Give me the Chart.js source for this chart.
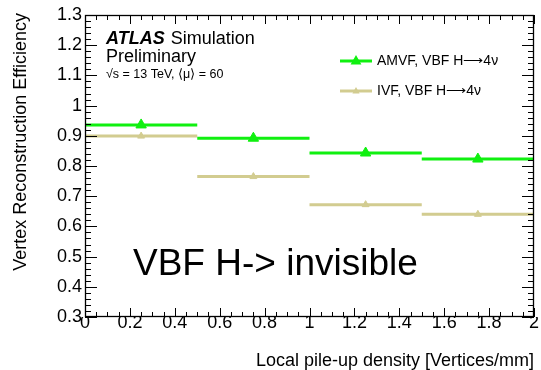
<!DOCTYPE html>
<html>
<head>
<meta charset="utf-8">
<script src="https://cdn.jsdelivr.net/npm/chart.js@4.4.0/dist/chart.umd.min.js"></script>
<style>
html,body{margin:0;padding:0;background:#fff;}
#wrap{width:541px;height:370px;position:relative;}
</style>
</head>
<body>
<div id="wrap"><canvas id="c" width="541" height="370"></canvas></div>
<script>
// ---- data ----
const binEdges = [0, 0.5, 1, 1.5, 2];
const amvfEff = [0.936, 0.892, 0.843, 0.823];
const ivfEff = [0.899, 0.765, 0.672, 0.640];
const seriesNames = ['AMVF, VBF H\u27f64\u03bd', 'IVF, VBF H\u27f64\u03bd'];
const xTitle = 'Local pile-up density [Vertices/mm]';
const yTitle = 'Vertex Reconstruction Efficiency';
const annotation = 'VBF H-> invisible';

const GREEN = '#10f010';
const TAN = '#d2cc90';
const FONT = '"Liberation Sans", Arial, sans-serif';

function segments(vals){
  const out = [];
  vals.forEach((v,i)=>{
    out.push({x:binEdges[i], y:v});
    out.push({x:binEdges[i+1], y:v});
    out.push({x:binEdges[i+1], y:null});
  });
  return out;
}
function centers(vals){
  return vals.map((v,i)=>({x:(binEdges[i]+binEdges[i+1])/2, y:v}));
}
const fmt = v => String(Math.round(v*10)/10);

const decor = {
  id:'decor',
  afterDraw(chart){
    const ctx = chart.ctx, a = chart.chartArea;
    const xs = chart.scales.x, ys = chart.scales.y;
    ctx.save();
    // frame
    ctx.strokeStyle = '#000'; ctx.lineWidth = 1.3;
    ctx.strokeRect(a.left+0.5, a.top+0.5, a.right-a.left-1, a.bottom-a.top-1);
    ctx.lineWidth = 1;
    // x ticks (bottom & top)
    ctx.beginPath();
    for (let k=0;k<=40;k++){
      const v = k*0.05;
      const px = Math.round(xs.getPixelForValue(v))+0.5;
      const len = (k%4===0)?9:5;
      ctx.moveTo(px, a.bottom); ctx.lineTo(px, a.bottom-len);
      ctx.moveTo(px, a.top); ctx.lineTo(px, a.top+len);
    }
    // y ticks (left & right)
    for (let k=0;k<=50;k++){
      const v = 0.3 + k*0.02;
      const py = Math.round(ys.getPixelForValue(v))+0.5;
      const len = (k%5===0)?12:6;
      ctx.moveTo(a.left, py); ctx.lineTo(a.left+len, py);
      ctx.moveTo(a.right, py); ctx.lineTo(a.right-len, py);
    }
    ctx.stroke();

    ctx.fillStyle = '#000';
    // axis titles
    ctx.font = '18px '+FONT;
    ctx.textAlign = 'right'; ctx.textBaseline = 'alphabetic';
    ctx.fillText(xTitle, a.right, 366);
    ctx.save();
    ctx.translate(26, a.top-2);
    ctx.rotate(-Math.PI/2);
    ctx.textAlign='right';
    ctx.fillText(yTitle, 0, 0);
    ctx.restore();

    // ATLAS label
    ctx.textAlign = 'left';
    ctx.font = 'italic bold 18px '+FONT;
    ctx.fillText('ATLAS', 106, 44);
    const w = ctx.measureText('ATLAS').width;
    ctx.font = '18px '+FONT;
    ctx.fillText('Simulation', 106+w+6, 44);
    ctx.fillText('Preliminary', 106, 62);
    ctx.font = '12.5px '+FONT;
    ctx.fillText('\u221As = 13 TeV, \u27e8\u03bc\u27e9 = 60', 106, 78);

    // annotation
    ctx.font = '37px '+FONT;
    ctx.fillText(annotation, 133, 275);

    // legend
    const legend = [[GREEN, seriesNames[0], 61, 6], [TAN, seriesNames[1], 91, 4]];
    legend.forEach(([col, txt, y, r])=>{
      ctx.strokeStyle = col; ctx.lineWidth = 3;
      ctx.beginPath(); ctx.moveTo(340, y); ctx.lineTo(372, y); ctx.stroke();
      ctx.fillStyle = col;
      ctx.beginPath();
      ctx.moveTo(356, y-r); ctx.lineTo(356+r*0.9, y+r*0.6); ctx.lineTo(356-r*0.9, y+r*0.6);
      ctx.closePath(); ctx.fill();
      ctx.fillStyle = '#000';
      ctx.font = '14px '+FONT;
      ctx.textBaseline = 'middle';
      ctx.fillText(txt, 377, y);
    });
    ctx.restore();
  }
};

new Chart(document.getElementById('c'), {
  type:'line',
  data:{
    datasets:[
      {label:seriesNames[0], data:segments(amvfEff), borderColor:GREEN, borderWidth:3, pointRadius:0, spanGaps:false, order:2},
      {label:seriesNames[1], data:segments(ivfEff), borderColor:TAN, borderWidth:3, pointRadius:0, spanGaps:false, order:3},
      {type:'scatter', label:'m1', data:centers(amvfEff), pointStyle:'triangle', pointRadius:6, backgroundColor:GREEN, borderColor:GREEN, showLine:false, order:0},
      {type:'scatter', label:'m2', data:centers(ivfEff), pointStyle:'triangle', pointRadius:4, backgroundColor:TAN, borderColor:TAN, showLine:false, order:1}
    ]
  },
  options:{
    responsive:false,
    animation:false,
    layout:{padding:{left:0, right:5, top:15, bottom:0}},
    plugins:{legend:{display:false}, tooltip:{enabled:false}},
    scales:{
      x:{type:'linear', min:0, max:2,
        grid:{display:false, drawTicks:false}, border:{display:false},
        ticks:{stepSize:0.2, padding:-5, color:'#000', font:{family:FONT, size:18}, maxRotation:0, callback:fmt},
        afterFit(s){ s.height = 53; s.paddingLeft = 0; s.paddingRight = 0; }
      },
      y:{type:'linear', min:0.3, max:1.3,
        grid:{display:false, drawTicks:false}, border:{display:false},
        ticks:{stepSize:0.1, padding:3, color:'#000', font:{family:FONT, size:18}, callback:fmt},
        afterFit(s){ s.width = 85; s.paddingTop = 0; s.paddingBottom = 0; }
      }
    }
  },
  plugins:[decor]
});
</script>
</body>
</html>
